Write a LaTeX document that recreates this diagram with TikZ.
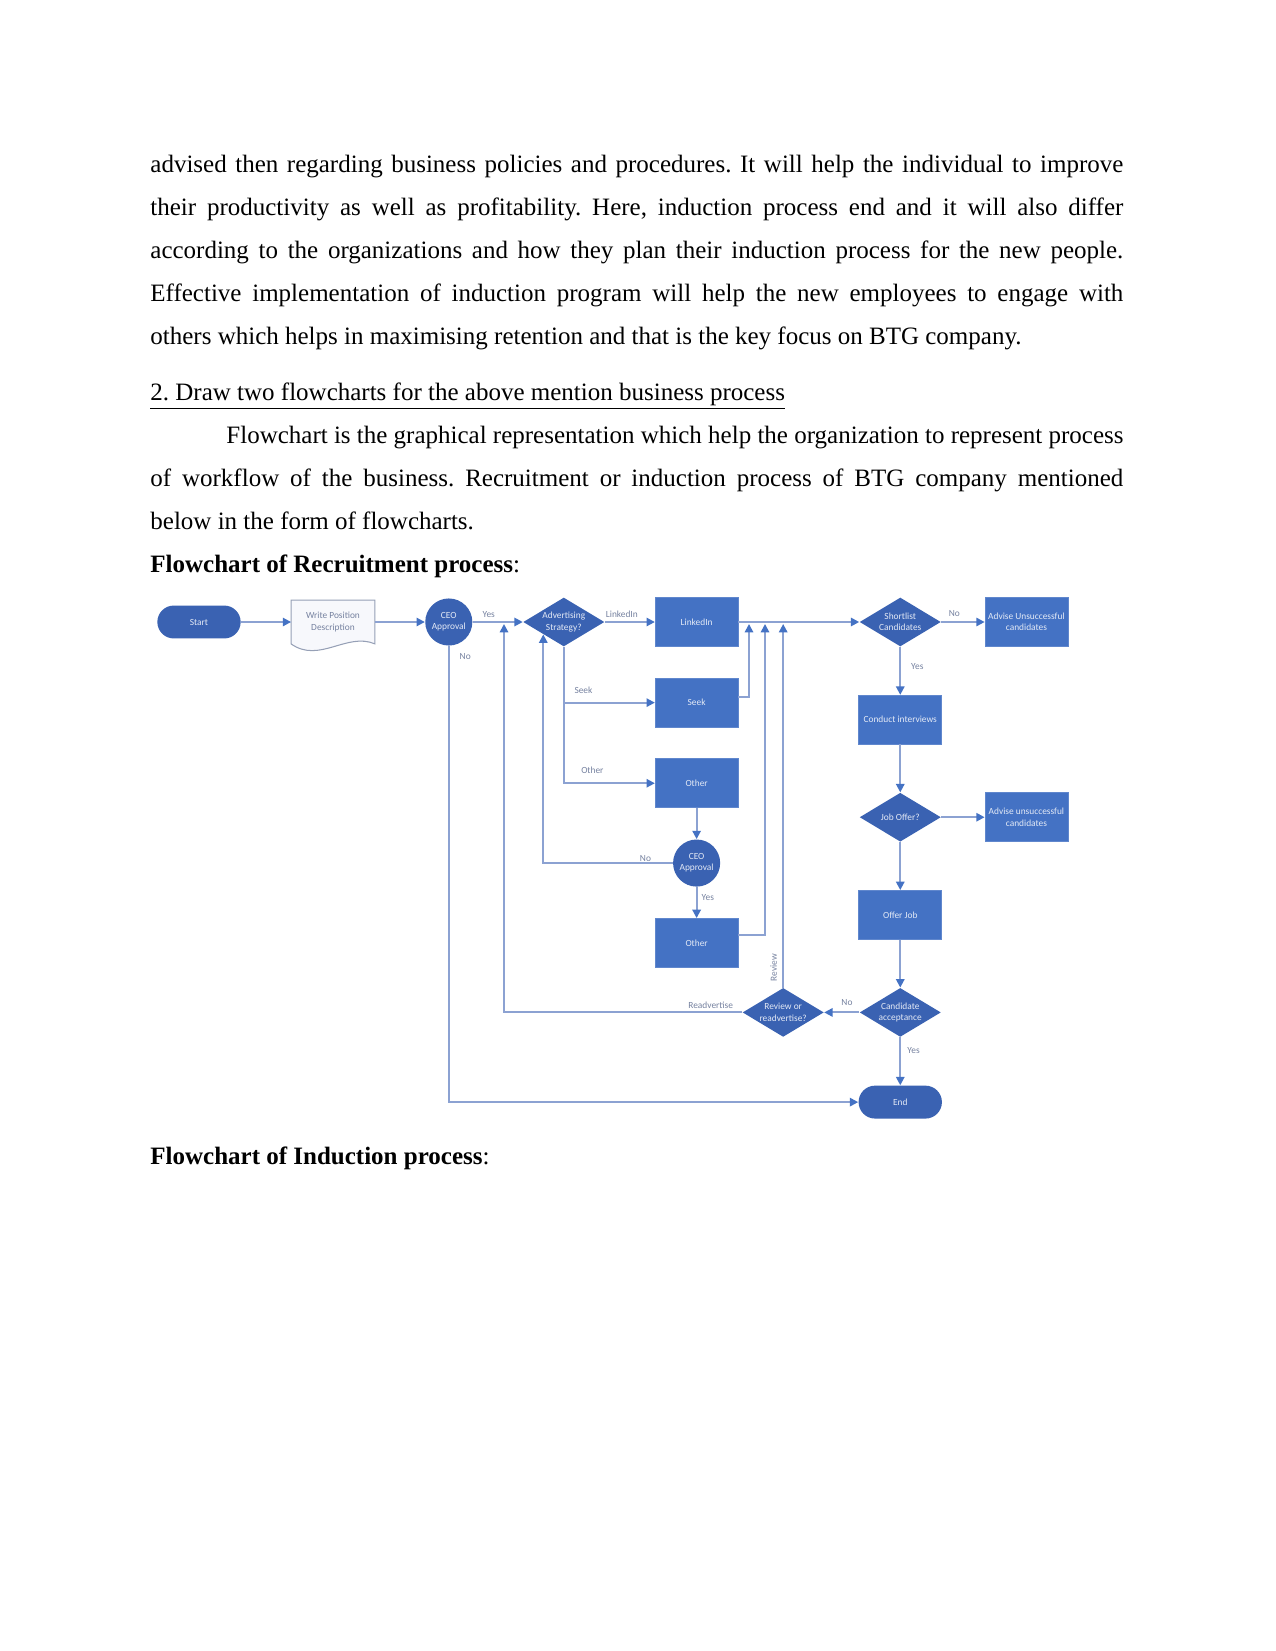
\documentclass[tikz,border=0pt]{standalone}
\usepackage{fontspec}
\setmainfont{Liberation Serif}
\newfontfamily\chartfont{Carlito}
\usetikzlibrary{shapes.geometric, arrows.meta, positioning, backgrounds}
\usepackage{xcolor}
\frenchspacing
\definecolor{boxblue}{RGB}{68,114,196}
\definecolor{deepblue}{RGB}{58,98,178}
\definecolor{flowline}{RGB}{140,162,210}
\definecolor{labgrey}{RGB}{118,130,160}
\definecolor{docedge}{RGB}{150,160,182}
\definecolor{docfill}{RGB}{247,248,252}
\definecolor{boxtext}{RGB}{228,234,246}
\newcommand{\chartsize}{\chartfont\fontsize{4.5}{5.4}\selectfont}
\tikzset{
  block/.style = {rectangle, draw=boxblue!85!white, line width=0.3pt, fill=boxblue, minimum height=23.5pt, minimum width=39.8pt, inner sep=0pt, align=center, text=boxtext, font=\chartsize},
  decision/.style = {diamond, aspect=1.65, fill=deepblue, minimum height=23.5pt, minimum width=39pt, inner sep=0pt, align=center, text=boxtext, font=\chartsize},
  terminal/.style = {rectangle, rounded corners=7.9pt, fill=deepblue, minimum height=15.8pt, minimum width=40pt, inner sep=0pt, text=boxtext, font=\chartsize},
  approval/.style = {circle, fill=deepblue, minimum size=22.6pt, inner sep=0pt, align=center, text=boxtext, font=\chartsize},
  docbox/.style = {rectangle, minimum height=20.6pt, minimum width=39.8pt, inner sep=0pt, align=center, text=labgrey, font=\chartsize},
  arrow/.style = {draw=flowline, line width=0.9pt, -{Triangle[length=4pt, width=4pt, color=boxblue]}},
  flowlabel/.style = {text=labgrey, font=\chartsize, inner sep=0pt},
  bodyline/.style = {anchor=base west, inner sep=0pt, font=\fontsize{12}{14}\selectfont}
}
\begin{document}
\begin{tikzpicture}[x=0.48pt, y=-0.48pt]
\useasboundingbox (0,0) rectangle (1275,1651);

% page text
\node[bodyline] (p1a) at (150,172.5) {\makebox[467pt][s]{advised then regarding business policies and procedures. It will help the individual to improve}};
\node[bodyline] (p1b) at (150,215.6) {\makebox[467pt][s]{their productivity as well as profitability. Here, induction process end and it will also differ}};
\node[bodyline] (p1c) at (150,258.7) {\makebox[467pt][s]{according to the organizations and how they plan their induction process for the new people.}};
\node[bodyline] (p1d) at (150,301.8) {\makebox[467pt][s]{Effective implementation of induction program will help the new employees to engage with}};
\node[bodyline] (p1e) at (150,344.9) {others which helps in maximising retention and that is the key focus on BTG company.};

\node[bodyline] (head) at (150,400) {\underline{2. Draw two flowcharts for the above mention business process}};

\node[bodyline] (p2a) at (226,443.5) {\makebox[430.6pt][s]{Flowchart is the graphical representation which help the organization to represent process}};
\node[bodyline] (p2b) at (150,486.6) {\makebox[467pt][s]{of workflow of the business. Recruitment or induction process of BTG company mentioned}};
\node[bodyline] (p2c) at (150,529.7) {below in the form of flowcharts.};
\node[bodyline] (rectitle) at (150,572.8) {\textbf{Flowchart of Recruitment process}:};
\node[bodyline] (indtitle) at (150,1164) {\textbf{Flowchart of Induction process}:};

% recruitment flowchart
\node[terminal] (start) at (199,622) {Start};
\node[docbox, right=24pt of start] (wpd) {Write Position\\Description};
\node[approval, right=24pt of wpd] (ceo1) {CEO\\Approval};
\node[decision, right=24pt of ceo1] (adv) {Advertising\\Strategy?};
\node[block, right=24pt of adv] (linkedin) {LinkedIn};
\node[block, below=14.9pt of linkedin] (seek) {Seek};
\node[block, below=14.9pt of seek] (other1) {Other};
\node[approval, below=14.9pt of other1] (ceo2) {CEO\\Approval};
\node[block, below=14.9pt of ceo2] (other2) {Other};

\node[decision, right=58pt of linkedin] (short) {Shortlist\\Candidates};
\node[block, right=20.8pt of short] (advise1) {Advise Unsuccessful\\candidates};
\node[block, below=23pt of short] (interv) {Conduct interviews};
\node[decision, below=23pt of interv] (joboffer) {Job Offer?};
\node[block, right=20.8pt of joboffer] (advise2) {Advise unsuccessful\\candidates};
\node[block, below=23pt of joboffer] (offer) {Offer Job};
\node[decision, below=23pt of offer] (accept) {Candidate\\acceptance};
\node[decision, left=16.8pt of accept] (review) {Review or\\readvertise?};
\node[terminal, below=23pt of accept] (endn) {End};

\begin{scope}[on background layer]
\fill[white] (0,0) rectangle (1275,1651);
\filldraw[draw=docedge, fill=docfill, line width=0.5pt] (wpd.north west) -- (wpd.north east) -- (wpd.south east)
  .. controls +(-28,-12) and +(28,20) .. (wpd.south west) -- cycle;
\end{scope}

% joins on the main line
\coordinate (j1) at (749,624);
\coordinate (j2) at (765,624);
\coordinate (j3) at (review.north |- j2);
\coordinate (j4) at (504,624);

\draw[arrow] (start) -- (wpd);
\draw[arrow] (wpd) -- (ceo1);
\draw[arrow] (ceo1) -- node[flowlabel, pos=0.32, above=1.5pt] (l1) {Yes} (adv);
\draw[arrow] (ceo1.south) |- node[flowlabel, pos=0.012, right=4.8pt] (l2) {No} (endn.west);
\draw[arrow] (adv) -- node[flowlabel, pos=0.34, above=1.5pt] (l3) {LinkedIn} (linkedin);
\draw[arrow] (adv.south) |- node[flowlabel, pos=0.608, above=4pt] (l4) {Seek} (seek.west);
\draw[arrow] (adv.south) |- node[flowlabel, pos=0.657, above=4pt] (l5) {Other} (other1.west);
\draw[arrow] (linkedin) -- (short);
\draw[arrow] ([yshift=2.9pt]seek.east) -| (j1);
\draw[arrow] (other1) -- (ceo2);
\draw[arrow] (ceo2.west) -| node[flowlabel, pos=0.105, above=0.5pt] (l6) {No} (adv.south west);
\draw[arrow] (ceo2) -- node[flowlabel, pos=0.35, right=2pt] (l7) {Yes} (other2);
\draw[arrow] ([yshift=3.8pt]other2.east) -| (j2);
\draw[arrow] (review.north) -- node[flowlabel, pos=0.054, rotate=90, anchor=south, inner ysep=2.5pt] (l8) {Review} (j3);
\draw[arrow] (review.west) -| node[flowlabel, pos=0.066, above=1.5pt] (l9) {Readvertise} (j4);
\draw[arrow] (short) -- node[flowlabel, pos=0.3, above=2pt] (l10) {No} (advise1);
\draw[arrow] (short) -- node[flowlabel, pos=0.4, right=4.8pt] (l11) {Yes} (interv);
\draw[arrow] (interv) -- (joboffer);
\draw[arrow] (joboffer) -- (advise2);
\draw[arrow] (joboffer) -- (offer);
\draw[arrow] (offer) -- (accept);
\draw[arrow] (accept) -- node[flowlabel, pos=0.35, above=3pt] (l12) {No} (review);
\draw[arrow] (accept) -- node[flowlabel, pos=0.27, right=3pt] (l13) {Yes} (endn);
\end{tikzpicture}
\end{document}
